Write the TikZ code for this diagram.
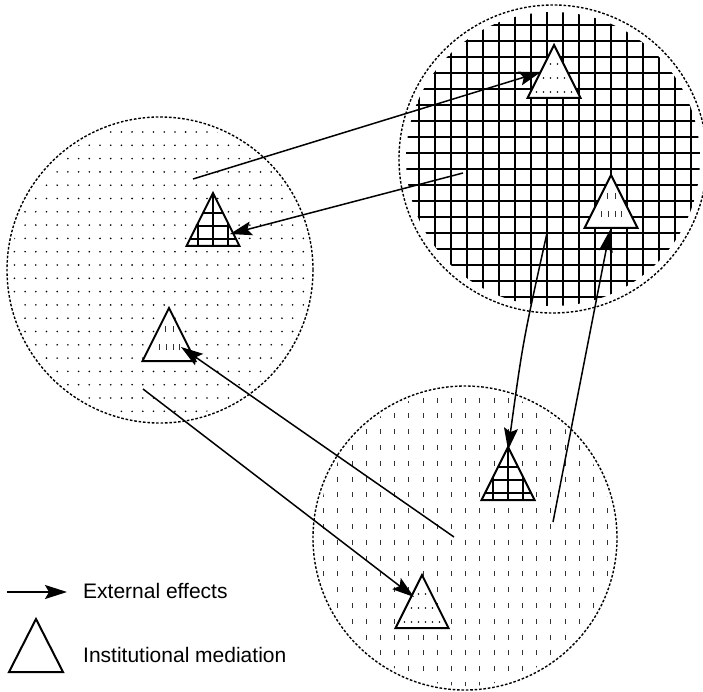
\documentclass[tikz,border=0pt]{standalone}
\usepackage{fontspec}
\setmainfont{Liberation Sans}
\usetikzlibrary{arrows.meta}
\begin{document}
\begin{tikzpicture}[x=1pt,y=-1pt,
  circb/.style={line width=1.4pt, dash pattern=on 2.6pt off 1.8pt},
  trib/.style={line width=2pt, line join=miter},
  gridln/.style={line width=2pt},
  dashln/.style={line width=0.9pt, black!80},
  effect/.style={line width=1.5pt, -{Stealth[length=22pt,width=14pt,inset=4pt]}},
  legtext/.style={font=\fontsize{21}{25}\selectfont, anchor=base west, inner sep=0pt},
  gridtri/.pic={
    \fill[white] (0,0) -- (-26.5,53) -- (26.5,53) -- cycle;
    \begin{scope}
      \clip (0,0) -- (-26.5,53) -- (26.5,53) -- cycle;
      \foreach \yy in {20,33,46} \draw[gridln] (-30,\yy) -- (30,\yy);
      \foreach \xx in {-15,0,15} \draw[gridln] (\xx,0) -- (\xx,53);
    \end{scope}
    \draw[trib] (0,0) -- (-26.5,53) -- (26.5,53) -- cycle;
    \coordinate (-apex) at (0,0);
  },
  dottri/.pic={
    \fill[white] (0,0) -- (-26.5,53) -- (26.5,53) -- cycle;
    \foreach \xx in {-3.5,3.5} \fill (\xx,19) circle[radius=0.8pt];
    \foreach \xx in {-10.5,-3.5,3.5,10.5} \fill (\xx,33) circle[radius=0.8pt];
    \foreach \xx in {-17.5,-10.5,-3.5,3.5,10.5,17.5} \fill (\xx,47) circle[radius=0.8pt];
    \draw[trib] (0,0) -- (-26.5,53) -- (26.5,53) -- cycle;
    \coordinate (-apex) at (0,0);
  },
  dashtri/.pic={
    \fill[white] (0,0) -- (-26.5,53) -- (26.5,53) -- cycle;
    \foreach \xx in {-4,4} \draw[dashln] (\xx,18) -- (\xx,24);
    \foreach \xx in {-10,-3,4,10} \draw[dashln] (\xx,36) -- (\xx,42);
    \draw[trib] (0,0) -- (-26.5,53) -- (26.5,53) -- cycle;
    \coordinate (-apex) at (0,0);
  },
  plaintri/.pic={
    \draw[trib, fill=white] (0,0) -- (-27,53) -- (27,53) -- cycle;
    \coordinate (-apex) at (0,0);
  },
]
\useasboundingbox (0,0) rectangle (703,692);

% circle centres
\coordinate (CL) at (160,270);
\coordinate (CG) at (553,159);
\coordinate (CB) at (465,538);

% left circle: dots
\begin{scope}
  \clip (CL) circle[radius=149pt];
  \foreach \i in {0,...,29} {
    \foreach \j in {-2,...,22} {
      \fill (3.7+10.7*\i, 132+13.3*\j) circle[radius=0.9pt];
    }
  }
\end{scope}
\draw[circb] (CL) circle[radius=153pt];

% top-right circle: grid
\begin{scope}
  \clip (CG) circle[radius=147pt];
  \foreach \i in {-2,...,19} \draw[gridln] (419+16*\i, 0) -- (419+16*\i, 320);
  \foreach \j in {-4,...,17} \draw[gridln] (395, 57+16*\j) -- (710, 57+16*\j);
\end{scope}
\draw[circb] (CG) circle[radius=154pt];

% bottom circle: vertical dashes
\begin{scope}
  \clip (CB) circle[radius=148pt];
  \foreach \i in {0,...,22} {
    \foreach \j in {-1,...,19} {
      \draw[dashln] (309.5+14.2*\i, 397.5+15.8*\j) -- (309.5+14.2*\i, 402.5+15.8*\j);
    }
  }
\end{scope}
\draw[circb] (CB) circle[radius=152pt];

% triangles (institutional mediation)
\pic (T1) at (554,45) {dottri};
\pic (T2) at (611,175) {dashtri};
\pic (T3) at (213,193) {gridtri};
\pic (T4) at (169,308) {dashtri};
\pic (T5) at (508,447) {gridtri};
\pic (T6) at (422,575) {dottri};

% arrow end points
\coordinate (a1s) at (193,179);  \coordinate (a1e) at (541,72);
\coordinate (a2s) at (463,173);  \coordinate (a2e) at (230,234);
\coordinate (a3s) at (547,233);  \coordinate (a3e) at (508,450);
\coordinate (a4s) at (553,522);  \coordinate (a4e) at (610,230);
\coordinate (a5s) at (454,537);  \coordinate (a5e) at (181,347);
\coordinate (a6s) at (143,389);  \coordinate (a6e) at (414,597);

\draw[effect] (a1s) -- (a1e);
\draw[effect] (a2s) -- (a2e);
\draw[effect] (a3s) .. controls (523,341) .. (a3e);
\draw[effect] (a4s) -- (a4e);
\draw[effect] (a5s) -- (a5e);
\draw[effect] (a6s) -- (a6e);

% legend
\coordinate (l1) at (7,592);
\coordinate (l2) at (67,592);
\draw[effect] (l1) -- (l2);
\node[legtext] (lt1) at (83,598) {External effects};
\pic (TL) at (36,619) {plaintri};
\node[legtext] (lt2) at (83,662) {Institutional mediation};
\end{tikzpicture}
\end{document}
